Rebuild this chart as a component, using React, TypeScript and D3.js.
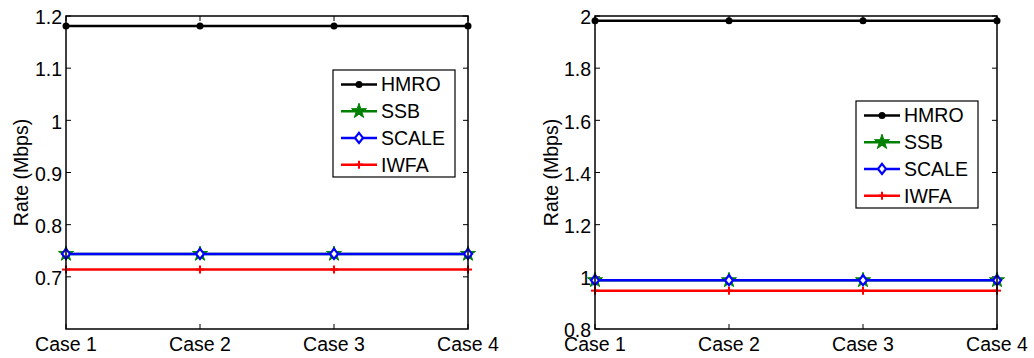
import React from "react";
import * as d3 from "d3";

const categories = ["Case 1", "Case 2", "Case 3", "Case 4"];
const seriesNames = ["HMRO", "SSB", "SCALE", "IWFA"];
const seriesColors = ["#000000", "#008000", "#0000ff", "#ff0000"];
const seriesMarkers = ["dot", "star", "diamond", "plus"];

const leftHMRO = [1.181, 1.181, 1.181, 1.181];
const leftSSB = [0.744, 0.744, 0.744, 0.744];
const leftSCALE = [0.744, 0.744, 0.744, 0.744];
const leftIWFA = [0.714, 0.714, 0.714, 0.714];
const leftTicks = [0.7, 0.8, 0.9, 1, 1.1, 1.2];
const leftDomain = [0.6, 1.2];

const rightHMRO = [1.982, 1.982, 1.982, 1.982];
const rightSSB = [0.987, 0.987, 0.987, 0.987];
const rightSCALE = [0.987, 0.987, 0.987, 0.987];
const rightIWFA = [0.947, 0.947, 0.947, 0.947];
const rightTicks = [0.8, 1, 1.2, 1.4, 1.6, 1.8, 2];
const rightDomain = [0.8, 2];

const FONT = "Arial, 'Liberation Sans', Helvetica, sans-serif";
const FS = 19.5;

function Marker({ kind, x, y, color }: { kind: string; x: number; y: number; color: string }) {
  if (kind === "dot") return <circle cx={x} cy={y} r={3.5} fill={color} />;
  if (kind === "star") {
    const star = d3.symbol().type(d3.symbolStar).size(70)();
    return <path d={star || ""} transform={`translate(${x},${y})`} fill={color} stroke={color} strokeWidth={1} />;
  }
  if (kind === "diamond") {
    const s = 5;
    return (
      <path
        d={`M${x},${y - s}L${x + s * 0.8},${y}L${x},${y + s}L${x - s * 0.8},${y}Z`}
        fill="white"
        stroke={color}
        strokeWidth={2.2}
      />
    );
  }
  return (
    <g stroke={color} strokeWidth={2}>
      <line x1={x - 4} x2={x + 4} y1={y} y2={y} />
      <line x1={x} x2={x} y1={y - 4} y2={y + 4} />
    </g>
  );
}

function Panel({
  left, right, top, bottom, domain, ticks, data, legend, labelX, tickFmt,
}: {
  left: number; right: number; top: number; bottom: number; domain: number[]; ticks: number[];
  data: number[][]; legend: { x: number; y: number; w: number; h: number }; labelX: number;
  tickFmt: (v: number) => string;
}) {
  const x = d3.scalePoint<string>().domain(categories).range([left, right]);
  const y = d3.scaleLinear().domain(domain).range([bottom, top]);
  const line = d3.line<number>().x((_, i) => x(categories[i])!).y((d) => y(d));
  const tl = 5;
  const rowH = legend.h / 4;
  return (
    <g fontFamily={FONT}>
      {ticks.map((t) => (
        <g key={t}>
          <line x1={left} x2={left + tl} y1={y(t)} y2={y(t)} stroke="#000" />
          <line x1={right} x2={right - tl} y1={y(t)} y2={y(t)} stroke="#000" />
          <text x={left - 4} y={y(t)} dy="0.42em" textAnchor="end" fontSize={FS}>
            {tickFmt(t)}
          </text>
        </g>
      ))}
      {categories.map((c) => (
        <g key={c}>
          <line x1={x(c)} x2={x(c)} y1={bottom} y2={bottom - tl} stroke="#000" />
          <line x1={x(c)} x2={x(c)} y1={top} y2={top + tl} stroke="#000" />
          <text x={x(c)} y={bottom + 22} textAnchor="middle" fontSize={FS}>
            {c}
          </text>
        </g>
      ))}
      <text
        transform={`translate(${labelX},${(top + bottom) / 2}) rotate(-90)`}
        textAnchor="middle"
        fontSize={FS}
      >
        Rate (Mbps)
      </text>
      {data.map((vals, si) => (
        <g key={si}>
          <path d={line(vals) || ""} fill="none" stroke={seriesColors[si]} strokeWidth={2.5} />
          {vals.map((v, i) => (
            <Marker key={i} kind={seriesMarkers[si]} x={x(categories[i])!} y={y(v)} color={seriesColors[si]} />
          ))}
        </g>
      ))}
      <rect x={left} y={top} width={right - left} height={bottom - top} fill="none" stroke="#000" strokeWidth={1.5} />
      <rect x={legend.x} y={legend.y} width={legend.w} height={legend.h} fill="white" stroke="#000" strokeWidth={1.2} />
      {seriesNames.map((n, i) => {
        const cy = legend.y + rowH * (i + 0.5) + 1;
        return (
          <g key={n}>
            <line x1={legend.x + 8} x2={legend.x + 44} y1={cy} y2={cy} stroke={seriesColors[i]} strokeWidth={2.5} />
            <Marker kind={seriesMarkers[i]} x={legend.x + 26} y={cy} color={seriesColors[i]} />
            <text x={legend.x + 48} y={cy} dy="0.36em" fontSize={FS}>
              {n}
            </text>
          </g>
        );
      })}
    </g>
  );
}

export default function App() {
  return (
    <svg width={1034} height={358} style={{ position: "absolute", left: 0, top: 0, background: "white" }}>
      <rect width={1034} height={358} fill="white" />
      <Panel
        left={66}
        right={468}
        top={16}
        bottom={329}
        domain={leftDomain}
        ticks={leftTicks}
        data={[leftHMRO, leftSSB, leftSCALE, leftIWFA]}
        legend={{ x: 333, y: 70, w: 122, h: 107 }}
        labelX={28}
        tickFmt={(v) => String(+v.toFixed(1))}
      />
      <Panel
        left={595}
        right={997}
        top={16}
        bottom={329}
        domain={rightDomain}
        ticks={rightTicks}
        data={[rightHMRO, rightSSB, rightSCALE, rightIWFA]}
        legend={{ x: 856, y: 101, w: 122, h: 107 }}
        labelX={558}
        tickFmt={(v) => String(+v.toFixed(1))}
      />
    </svg>
  );
}
